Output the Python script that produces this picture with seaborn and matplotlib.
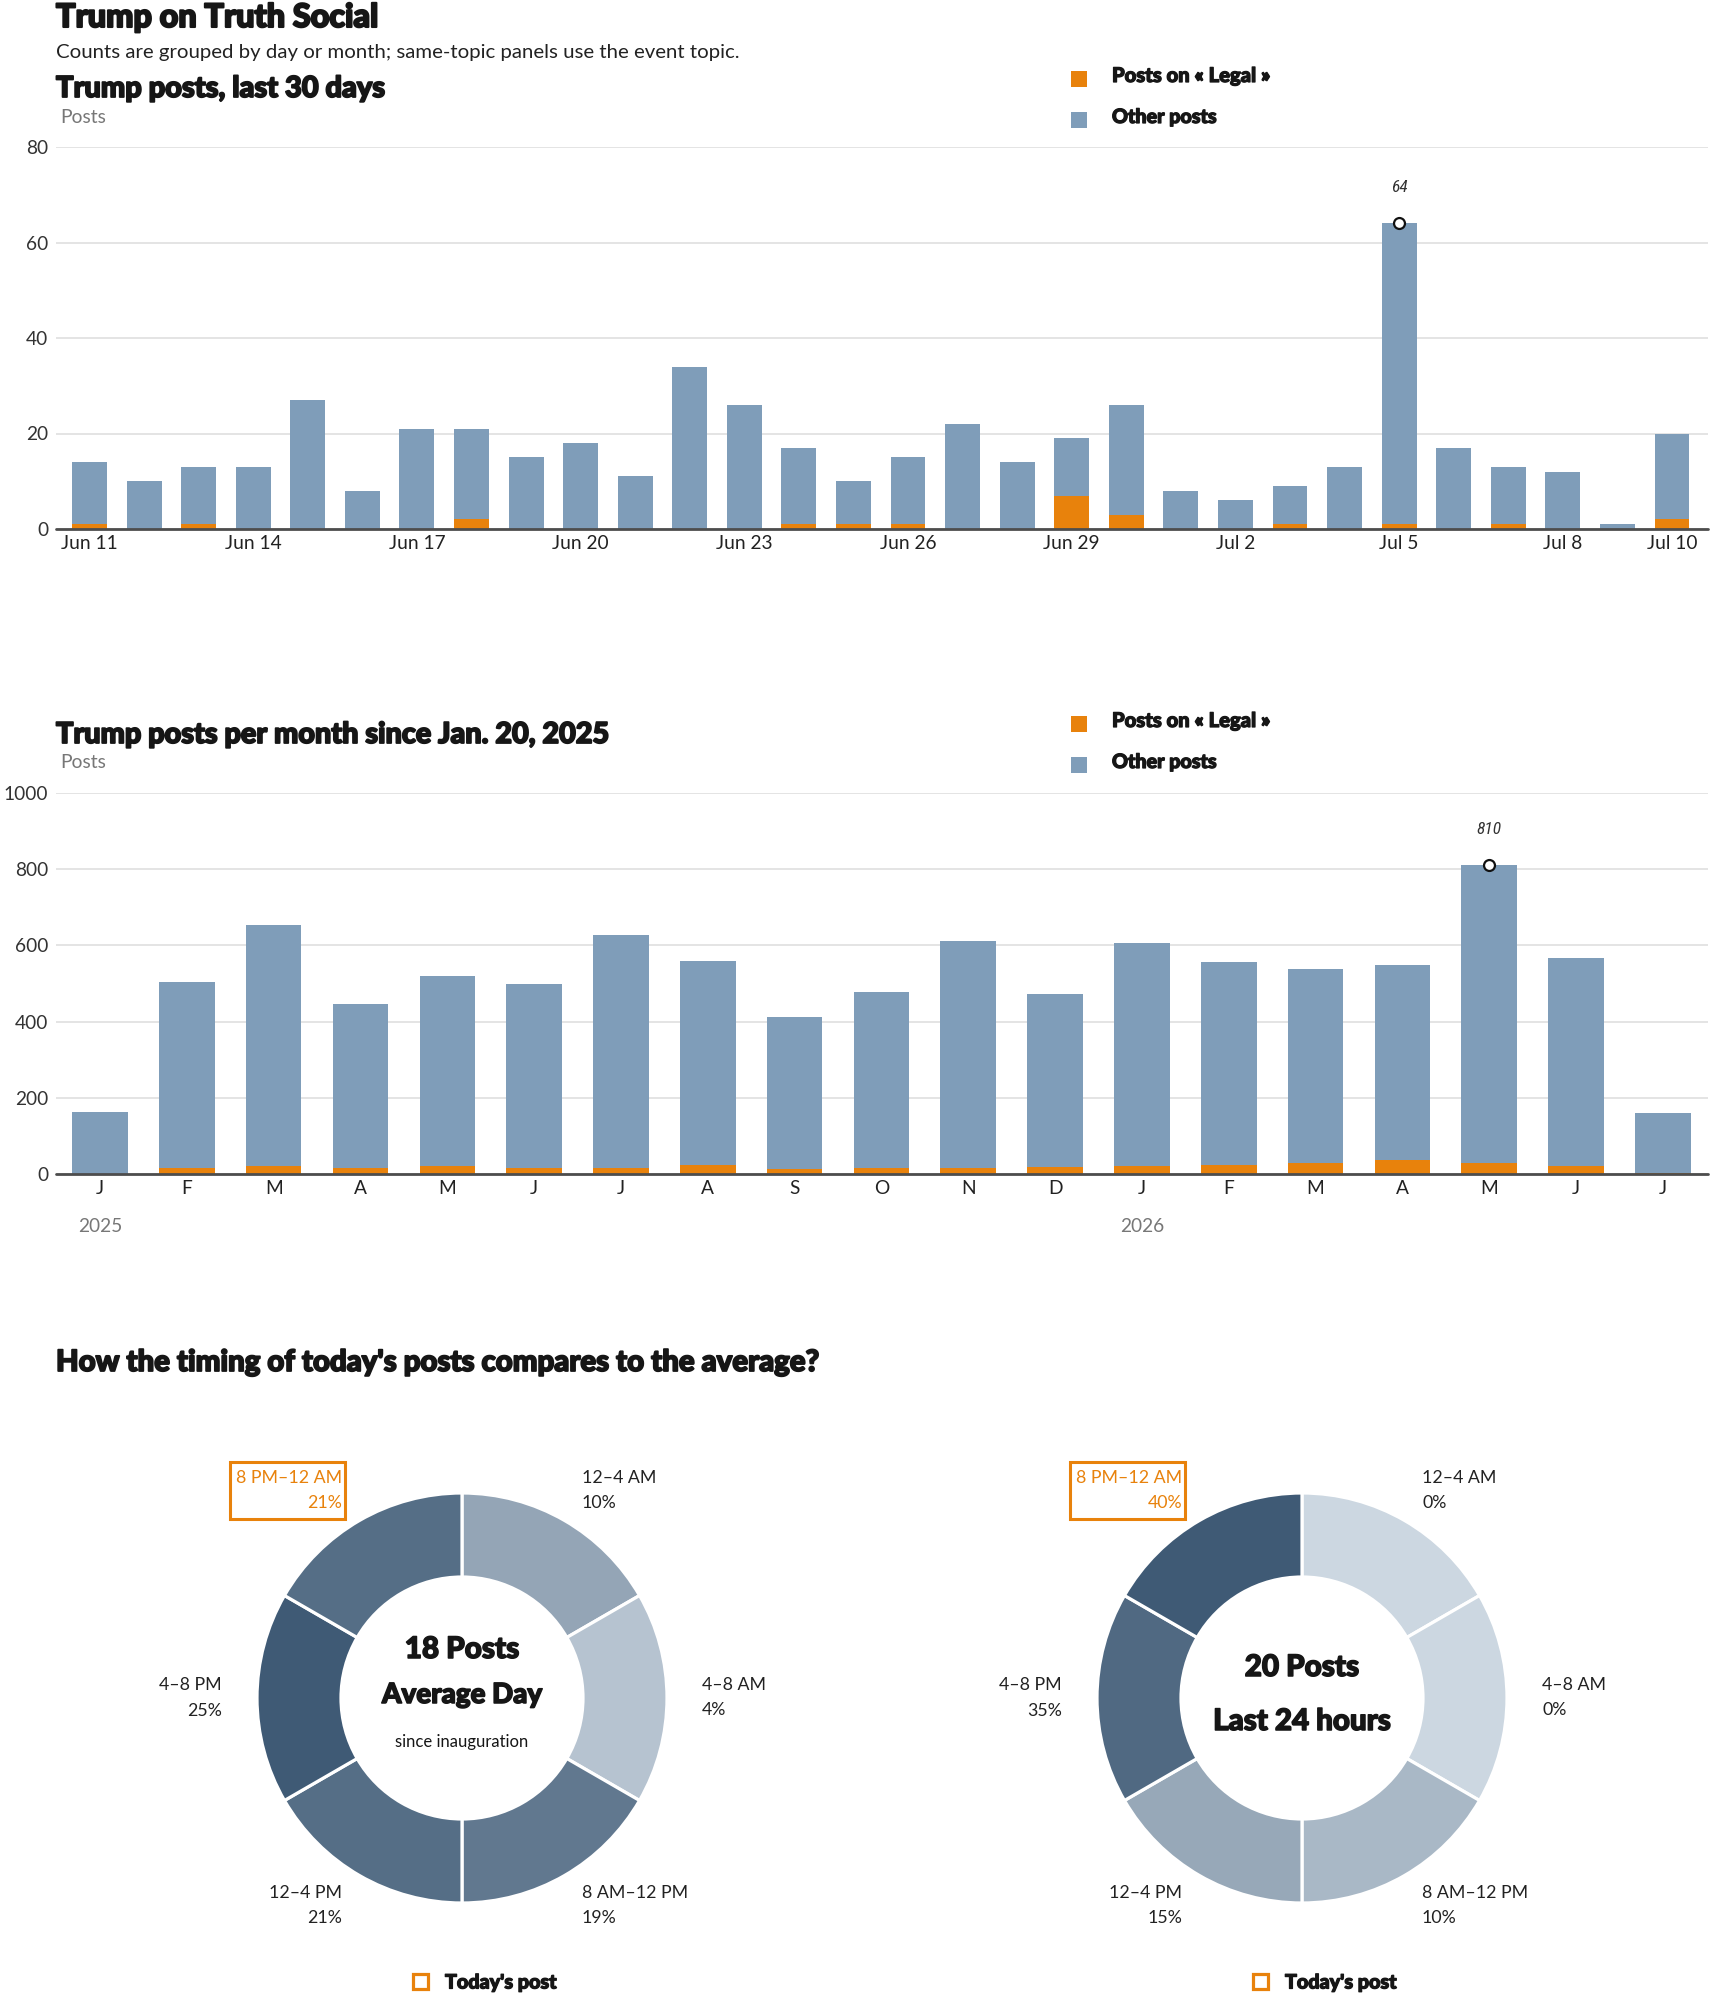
import matplotlib
matplotlib.use("Agg")
import numpy as np
import pandas as pd
import seaborn as sns
import matplotlib.pyplot as plt
from matplotlib.patches import Rectangle
from matplotlib import font_manager as fm
from matplotlib import patheffects as pe

# ---------------- data ----------------
day_keys = ["Jun 11", "Jun 12", "Jun 13", "Jun 14", "Jun 15", "Jun 16", "Jun 17", "Jun 18",
            "Jun 19", "Jun 20", "Jun 21", "Jun 22", "Jun 23", "Jun 24", "Jun 25", "Jun 26",
            "Jun 27", "Jun 28", "Jun 29", "Jun 30", "Jul 1", "Jul 2", "Jul 3", "Jul 4",
            "Jul 5", "Jul 6", "Jul 7", "Jul 8", "Jul 9", "Jul 10"]
day_total = [14, 10, 13, 13, 27, 8, 21, 21, 15, 18, 11, 34, 26, 17, 10, 15,
             22, 14, 19, 26, 8, 6, 9, 13, 64, 17, 13, 12, 1, 20]
day_legal = [1, 0, 1, 0, 0, 0, 0, 2, 0, 0, 0, 0, 0, 1, 1, 1,
             0, 0, 7, 3, 0, 0, 1, 0, 1, 0, 1, 0, 0, 2]
day_tick_labels = ["Jun 11", "Jun 14", "Jun 17", "Jun 20", "Jun 23", "Jun 26",
                   "Jun 29", "Jul 2", "Jul 5", "Jul 8", "Jul 10"]

month_keys = ["2025-01", "2025-02", "2025-03", "2025-04", "2025-05", "2025-06", "2025-07",
              "2025-08", "2025-09", "2025-10", "2025-11", "2025-12", "2026-01", "2026-02",
              "2026-03", "2026-04", "2026-05", "2026-06", "2026-07"]
month_letters = ["J", "F", "M", "A", "M", "J", "J", "A", "S", "O", "N", "D",
                 "J", "F", "M", "A", "M", "J", "J"]
month_total = [163, 503, 654, 446, 519, 499, 627, 559, 411, 477, 611, 472,
               607, 556, 538, 548, 810, 567, 161]
month_legal = [1, 17, 22, 16, 22, 16, 16, 24, 14, 16, 16, 19,
               22, 24, 30, 36, 30, 22, 3]

slots = ["12–4 AM", "4–8 AM", "8 AM–12 PM", "12–4 PM", "4–8 PM", "8 PM–12 AM"]
avg_pct = [10, 4, 19, 21, 25, 21]
today_pct = [0, 0, 10, 15, 35, 40]
current_slot = "8 PM–12 AM"

# ---------------- style ----------------
W, H = 1710, 1993
BLUE = "#7f9db9"
ORANGE = "#e8820c"
INK = "#161616"
TXT = "#222222"
GRAY = "#777777"
GRID = "#dcdcdc"
BASE = "#4d4d4d"
COND = "Roboto Condensed"

sns.set_theme(style="white")
plt.rcParams["font.family"] = ["Lato", "DejaVu Sans"]


def heavy_props():
    for name in ("Lato-Black.ttf", "Lato-Heavy.ttf"):
        for f in fm.fontManager.ttflist:
            if f.fname.endswith(name):
                return dict(fontproperties=fm.FontProperties(fname=f.fname))
    return dict(family="Lato", fontweight=900)


HV = heavy_props()


def bold_fx(lw):
    return [pe.withStroke(linewidth=lw, foreground=INK)]


fig = plt.figure(figsize=(W / 100, H / 100), dpi=100)
fits = []


def px_axes(x0, y0, x1, y1):
    return fig.add_axes([x0 / W, 1 - y1 / H, (x1 - x0) / W, (y1 - y0) / H])


ov = fig.add_axes([0, 0, 1, 1], zorder=10)
ov.set_xlim(0, W)
ov.set_ylim(H, 0)
ov.axis("off")


def t(x, y, s, target=None, heavy=0, **kw):
    if heavy:
        kw.update(HV)
        kw["path_effects"] = bold_fx(heavy)
    obj = ov.text(x, y, s, **kw)
    if target:
        fits.append(([obj], obj, target))
    return obj


# ---------------- headers ----------------
t(56, 27, "Trump on Truth Social", 322, 1.5, fontsize=22, color=INK, va="baseline")
t(56, 58, "Counts are grouped by day or month; same-topic panels use the event topic.", 685,
  fontsize=15, color=TXT, va="baseline")


def bar_panel(ax, keys, total, legal, yticks, xlim, tick_pos, tick_lab, top_title, title_w,
              y_title, y_posts, leg_y):
    df = pd.DataFrame({"key": keys, "total": total, "legal": legal})
    sns.barplot(data=df, x="key", y="total", order=keys, color=BLUE, saturation=1,
                width=0.64, errorbar=None, linewidth=0, ax=ax, zorder=2)
    sns.barplot(data=df, x="key", y="legal", order=keys, color=ORANGE, saturation=1,
                width=0.64, errorbar=None, linewidth=0, ax=ax, zorder=3)
    ax.set_xlim(*xlim)
    ax.set_ylim(0, yticks[-1])
    ax.set_yticks(yticks)
    ax.set_yticklabels([str(v) for v in yticks])
    ax.set_xticks(tick_pos)
    ax.set_xticklabels(tick_lab)
    ax.set_xlabel("")
    ax.set_ylabel("")
    for s in ax.spines.values():
        s.set_visible(False)
    ax.grid(axis="y", color=GRID, lw=1.1, zorder=0)
    ax.grid(axis="x", visible=False)
    ax.set_axisbelow(True)
    ax.tick_params(axis="y", length=0, pad=5.5, labelsize=13.8, labelcolor="#333333")
    ax.tick_params(axis="x", length=0, pad=4.0, labelsize=13.8, labelcolor=TXT)
    ax.axhline(0, color=BASE, lw=2.0, zorder=6, clip_on=False)
    # peak marker
    i = int(np.argmax(total))
    ax.scatter([i], [total[i]], s=62, facecolor="white", edgecolor="#111111", linewidth=1.6,
               zorder=8, clip_on=False)
    ax.annotate(str(total[i]), (i, total[i]), xytext=(0, 26), textcoords="offset points",
                ha="center", va="center", fontsize=12.5, fontstyle="italic", family=COND,
                color="#333333", annotation_clip=False)
    # titles
    t(56, y_title, top_title, title_w, 1.3, fontsize=18, color=INK, va="baseline")
    t(60, y_posts, "Posts", 46, fontsize=13.5, color=GRAY, va="baseline")
    # legend
    for (lab, col, dy, tw) in [("Posts on « Legal »", ORANGE, 0, 159), ("Other posts", BLUE, 41, 105)]:
        ov.add_patch(Rectangle((1071, leg_y - 11 + dy), 16, 16, facecolor=col, edgecolor="none"))
        t(1112, leg_y + dy, lab, tw, 0.9, fontsize=14, color=INK, va="baseline")


# ---------------- chart 1 : last 30 days ----------------
ax1 = px_axes(56, 147, 1708, 529)
d_pos = [day_keys.index(k) for k in day_tick_labels]
bar_panel(ax1, day_keys, day_total, day_legal, [0, 20, 40, 60, 80], (-0.614, 29.66),
          d_pos, day_tick_labels, "Trump posts, last 30 days", 329, 97, 123, 82)

# ---------------- chart 2 : per month ----------------
ax2 = px_axes(56, 793, 1708, 1174)
bar_panel(ax2, month_keys, month_total, month_legal, [0, 200, 400, 600, 800, 1000], (-0.507, 18.52),
          list(range(len(month_keys))), month_letters, "Trump posts per month since Jan. 20, 2025",
          554, 743, 768, 727)
for i, k in enumerate(month_keys):
    if k.endswith("-01"):
        ax2.annotate(k[:4], (i, 0), xytext=(0, -37.5), textcoords="offset points", ha="center",
                     va="center", fontsize=13.8, color=GRAY, annotation_clip=False)

# ---------------- donuts ----------------
t(56, 1371, "How the timing of today's posts compares to the average?", 763, 1.3,
  fontsize=18, color=INK, va="baseline")

cmap = sns.blend_palette(["#ccd7e1", "#3f5a75"], as_cmap=True)
label_texts = []
rep = {}


def donut(cx, cy, pct, center_lines):
    ax = px_axes(cx - 300, cy - 300, cx + 300, cy + 300)
    mx = max(pct)
    cols = [cmap(p / mx) for p in pct]
    ax.pie([1] * len(pct), radius=205, startangle=90, counterclock=False, colors=cols,
           wedgeprops=dict(width=84, edgecolor="white", linewidth=2.3))
    ax.set_xlim(-300, 300)
    ax.set_ylim(-300, 300)
    ax.set_aspect("equal")
    ax.axis("off")
    for k, (name, p) in enumerate(zip(slots, pct)):
        th = np.deg2rad(30 + 60 * k)
        dx, dy = 240 * np.sin(th), 240 * np.cos(th)
        ha = "left" if dx > 0 else "right"
        hl = name == current_slot
        c = ORANGE if hl else TXT
        a = ax.text(dx, dy + 12.5, name, ha=ha, va="center", fontsize=13.5, color=c)
        b = ax.text(dx, dy - 12.5, f"{p}%", ha=ha, va="center", fontsize=13.5, color=c)
        label_texts.extend([a, b])
        if name == "8 AM–12 PM" and "lab" not in rep:
            rep["lab"] = a
        if hl:
            ax.add_patch(Rectangle((dx - 112, dy - 28.5), 115, 57, fill=False,
                                   edgecolor=ORANGE, linewidth=2.2, zorder=5, clip_on=False))
    for (s, dy, fs, hv, tw) in center_lines:
        kw = dict(HV) if hv else {}
        if hv:
            kw["path_effects"] = bold_fx(1.1)
        o = ax.text(0, dy, s, ha="center", va="center", fontsize=fs, color=INK, **kw)
        fits.append(([o], o, tw))
    # legend
    ax.add_patch(Rectangle((-42 - 7.5, -284 - 7.5), 15, 15, fill=False, edgecolor=ORANGE,
                           linewidth=2.3, clip_on=False))
    o = ax.text(-17, -284, "Today's post", ha="left", va="center", fontsize=13, color=INK,
                path_effects=bold_fx(0.9), **HV)
    fits.append(([o], o, 111))
    return ax


donut(462, 1698, avg_pct, [("18 Posts", 49, 19, True, 114), ("Average Day", 3, 19, True, 160),
                           ("since inauguration", -44, 12, False, 133)])
donut(1302, 1698, today_pct, [("20 Posts", 31, 19, True, 114), ("Last 24 hours", -23, 19, True, 177)])
fits.append((label_texts, rep["lab"], 106))

# ---------------- fit text widths ----------------
fig.canvas.draw()
r = fig.canvas.get_renderer()
for group, ref, target in fits:
    w = ref.get_window_extent(r).width
    if w > 0:
        f = target / w
        for o in group:
            o.set_fontsize(o.get_fontsize() * f)

fig.savefig("out.png", dpi=100)
